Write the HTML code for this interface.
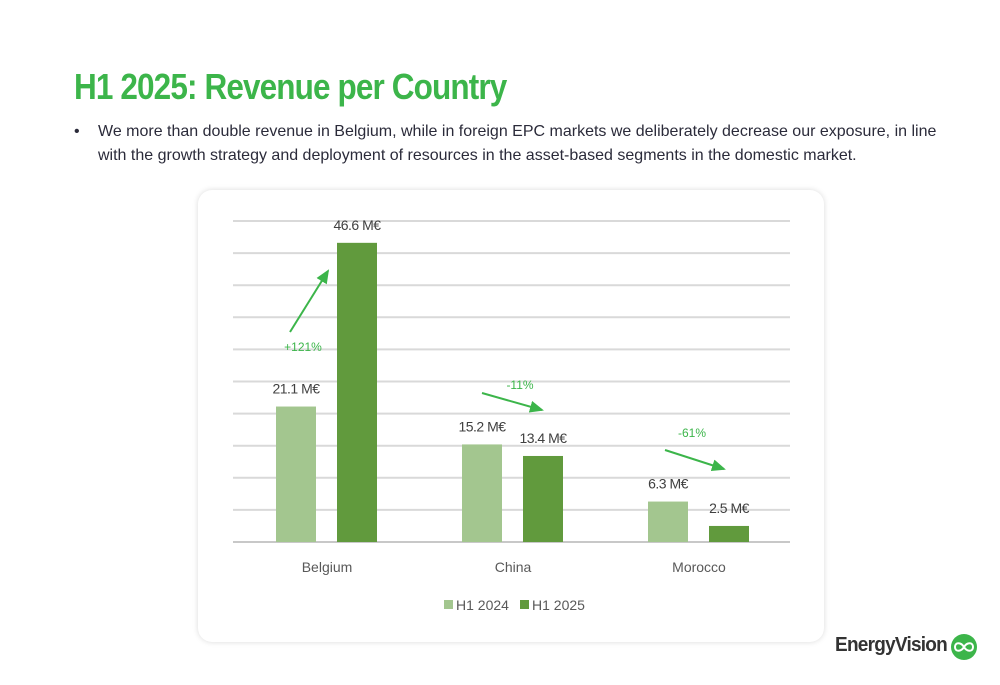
<!DOCTYPE html>
<html><head><meta charset="utf-8"><style>
body{margin:0;width:1000px;height:685px;background:#fff;font-family:"Liberation Sans",sans-serif;position:relative;overflow:hidden}
h1{position:absolute;left:74px;top:66px;margin:0;font-size:36px;font-weight:bold;color:#3cb54a;letter-spacing:-1px;transform:scaleX(0.875);transform-origin:left;white-space:nowrap}
.bul{position:absolute;left:74px;top:120px;width:920px;font-size:16px;color:#2b2b3a;line-height:24px}
.bul span{position:absolute;left:0}
.bul p{margin:0 0 0 24px;white-space:nowrap}
.card{position:absolute;left:198px;top:190px;width:626px;height:452px;border-radius:14px;background:#fff;box-shadow:0 0 6px rgba(0,0,0,0.15)}
svg{position:absolute;left:0;top:0}
.logo{position:absolute;left:780px;width:167px;text-align:right;top:634px;font-size:20px;color:#333;font-weight:bold;letter-spacing:-0.8px;transform:scaleX(0.95);transform-origin:right}
</style></head><body>
<h1>H1 2025: Revenue per Country</h1>
<div class="bul"><span>•</span><p>We more than double revenue in Belgium, while in foreign EPC markets we deliberately decrease our exposure, in line<br>with the growth strategy and deployment of resources in the asset-based segments in the domestic market.</p></div>
<div class="card"></div>
<svg id="chart" width="1000" height="685"></svg>
<div class="logo">EnergyVision</div>
<svg width="1000" height="685" style="pointer-events:none"><circle cx="964" cy="647" r="13" fill="#3cb54a"/><path d="M955 647c0-5 6-5 9 0s9 5 9 0s-6-5-9 0s-9 5-9 0" fill="none" stroke="#fff" stroke-width="2"/></svg>
<script>
const categories=["Belgium","China","Morocco"];
const h2024=[21.1,15.2,6.3];
const h2025=[46.6,13.4,2.5];
const changes=["+121%","-11%","-61%"];
const yTicks=[0,5,10,15,20,25,30,35,40,45,50];
const NS="http://www.w3.org/2000/svg";
const svg=document.getElementById('chart');
const y=v=>542-v*6.42;
const xc=i=>327+i*186;
function mk(t,a){const e=document.createElementNS(NS,t);for(const k in a)e.setAttribute(k,a[k]);svg.appendChild(e);return e;}
yTicks.forEach(t=>{const l=mk('line',{x1:233,x2:790,y1:y(t),y2:y(t),stroke:t?'#d9d9d9':'#c8c8c8','stroke-width':2});

});
const defs=mk('defs',{});defs.innerHTML='<marker id="ah" markerWidth="8" markerHeight="8" refX="6" refY="3" orient="auto"><path d="M0,0L7,3L0,6z" fill="#3cb54a"/></marker>';
categories.forEach((c,i)=>{
 [[h2024[i],'#a3c68f',-51],[h2025[i],'#619a3d',10]].forEach(([v,col,off],j)=>{
  const r=mk('rect',{x:xc(i)+off,y:y(v),width:40,height:542-y(v),fill:col});
  
  
  const t=mk('text',{x:xc(i)+off+20,y:y(v)-13,'text-anchor':'middle','font-size':14,'letter-spacing':'-0.5',fill:'#404040'});t.textContent=v.toFixed(1)+' M€';
  
  
 });
 const cl=mk('text',{x:xc(i),y:572,'text-anchor':'middle','font-size':14,fill:'#595959'});cl.textContent=c;
 
 
});
const arrows=[[290,332,328,271,303,351],[482,393,542,410,520,389],[665,450,724,469,692,437]];
arrows.forEach((a,i)=>{
 const l=mk('line',{x1:a[0],y1:a[1],x2:a[2],y2:a[3],stroke:'#3cb54a','stroke-width':2,'marker-end':'url(#ah)'});
 
 
 const t=mk('text',{x:a[4],y:a[5],'text-anchor':'middle','font-size':12,fill:'#3cb54a'});t.textContent=changes[i];
 
 
});
[['H1 2024','#a3c68f',444],['H1 2025','#619a3d',520]].forEach(([n,c,x])=>{
 const r=mk('rect',{x:x,y:600,width:9,height:9,fill:c});
 
 
 const t=mk('text',{x:x+12,y:610,'font-size':14,fill:'#595959'});t.textContent=n;
 
 
});
</script>
</body></html>
